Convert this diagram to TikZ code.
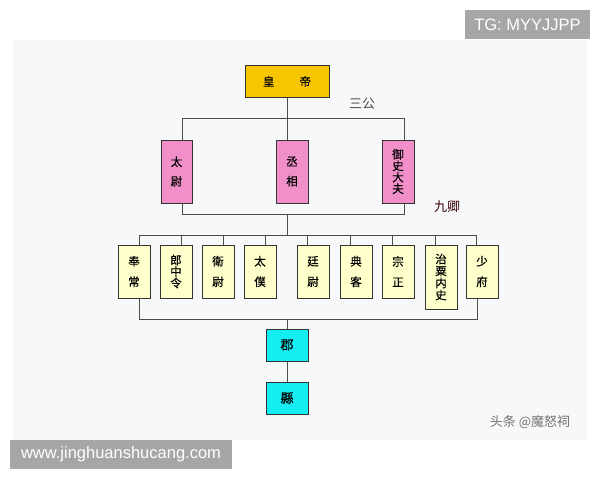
\documentclass[tikz,border=0pt]{standalone}
\usepackage{fontspec}
\setmainfont{Liberation Sans}
\newfontfamily\cjk[FakeBold=0.3]{Noto Sans CJK SC}
\newfontfamily\cjklight{Noto Sans CJK SC}
\usepackage{tikz}
\usetikzlibrary{calc, positioning}

\definecolor{gold}{HTML}{F7C600}
\definecolor{rosebox}{HTML}{F190C8}
\definecolor{paleyel}{HTML}{FFFFCC}
\definecolor{cyanbox}{HTML}{14EEF2}
\definecolor{panel}{HTML}{F6F8FA}
\definecolor{wmgray}{HTML}{A6A6A6}

\begin{document}
\begin{tikzpicture}[x=1pt, y=-1pt,
    office/.style={draw=black!80, line width=1pt, inner sep=0pt, align=center,
                   font=\cjk\fontsize{11.5}{11.5}\selectfont},
    gong/.style={office, fill=rosebox, minimum width=31pt, minimum height=63pt},
    qing/.style={office, fill=paleyel, minimum width=32pt, minimum height=53pt},
    local/.style={office, fill=cyanbox, minimum width=42pt, minimum height=32pt},
    link/.style={draw=black!70, line width=1pt},
    tag/.style={font=\cjklight\fontsize{13}{13}\selectfont},
    wmark/.style={fill=wmgray, text=white, font=\fontsize{16.5}{18}\selectfont, inner sep=0pt}]

    \useasboundingbox (0,0) rectangle (600,480);
    \fill[panel] (13,40) rectangle (587,440);

            % emperor
            \node[office, fill=gold, minimum width=84pt, minimum height=32pt] (emperor) at (287,81.5) {皇\hspace{25pt}帝};

            % three excellencies
            \node[gong] (taiwei) at (176.5,171.5) {太\\[8pt]尉};
            \node[gong, minimum width=32pt] (chengxiang) at (292,171.5) {丞\\[8pt]相};
            \node[gong, minimum width=32pt] (yushi) at (398,171.5) {御\\史\\大\\夫};
            \node[tag, text=black!70] (sangong) at (362,104) {三公};

            % nine ministers
            \node[qing] (fengchang) at (134,271.5) {奉\\[9pt]常};
            \node[qing] (langzhong) at (176,271.5) {郎\\中\\令};
            \node[qing] (weiwei) at (218,271.5) {衛\\[9pt]尉};
            \node[qing] (taipu) at (260,271.5) {太\\[9pt]僕};
            \node[qing] (tingwei) at (313,271.5) {廷\\[9pt]尉};
            \node[qing] (dianke) at (356,271.5) {典\\[9pt]客};
            \node[qing] (zongzheng) at (398,271.5) {宗\\[9pt]正};
            \node[qing, minimum height=64pt] (zhisu) at (441,277) {治\\[0.5pt]粟\\[0.5pt]内\\[0.5pt]史};
            \node[qing] (shaofu) at (482,271.5) {少\\[9pt]府};
            \node[tag, text=black!60!red!55!black] (jiuqing) at (447,207) {九卿};

            % commanderies and counties
            \node[local, font=\cjk\fontsize{13}{13}\selectfont] (jun) at (287,345) {郡};
            \node[local, font=\cjk\fontsize{13}{13}\selectfont] (xian) at (287,398) {縣};

            \coordinate (busA) at (287,118);
            \coordinate (busB) at (287,214);
            \coordinate (busC) at (287,235);
            \coordinate (busD) at (287,319);

            % Connections: emperor to excellencies
            \draw[link] (emperor) -- (busA);
            \draw[link] ([xshift=5.5pt]taiwei.north) |- (busA);
            \draw[link] ([xshift=-5pt]chengxiang.north) -- (busA);
            \draw[link] ([xshift=6pt]yushi.north) |- (busA);

            % Connections: excellencies to ministers
            \draw[link] ([xshift=5.5pt]taiwei.south) |- (busB);
            \draw[link] ([xshift=6pt]yushi.south) |- (busB);
            \draw[link] (busB) -- (busC);
            \foreach \m in {fengchang, langzhong, weiwei, taipu}
                \draw[link] ([xshift=5.5pt]\m.north) |- (busC);
            \foreach \m in {tingwei, dianke, zongzheng, zhisu, shaofu}
                \draw[link] ([xshift=-5.5pt]\m.north) |- (busC);

            % Connections: ministers to local
            \draw[link] ([xshift=5pt]fengchang.south) |- (busD);
            \draw[link] ([xshift=-5pt]shaofu.south) |- (busD);
            \draw[link] (busD) -- (jun);
            \draw[link] (jun) -- (xian);

            % watermarks
            \node[wmark, minimum width=125pt, minimum height=29pt] (tg) at (527.5,24.5) {TG: MYYJJPP};
            \node[wmark, minimum width=222pt, minimum height=29pt] (site) at (121,454.5) {www.jinghuanshucang.com};
            \node[tag, text=black!55] (toutiao) at (530,422) {头条 @魔怒祠};

        \end{tikzpicture}
\end{document}
